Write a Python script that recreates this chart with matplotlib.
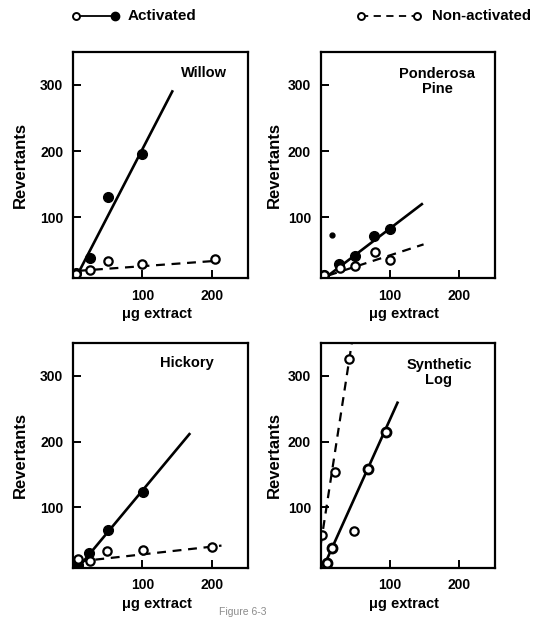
import matplotlib
matplotlib.use("Agg")
import matplotlib.pyplot as plt
from matplotlib.lines import Line2D

plt.rcParams["font.family"] = ["Liberation Sans", "DejaVu Sans"]
plt.rcParams["font.weight"] = "bold"

# values (x = ug extract, y = revertants)
panel_names = ["Willow", "Ponderosa\nPine", "Hickory", "Synthetic\nLog"]

willow_act_x = [5, 25, 50, 100]
willow_act_y = [15, 38, 131, 196]
willow_non_x = [5, 25, 50, 100, 205]
willow_non_y = [14, 20, 34, 29, 37]
willow_act_fit_x = [5, 144]
willow_act_fit_y = [10, 292]
willow_non_fit_x = [8, 205]
willow_non_fit_y = [19, 34]

pine_act_x = [4, 27, 49, 77, 100]
pine_act_y = [12, 29, 42, 71, 82]
pine_non_x = [4, 28, 49, 78, 101]
pine_non_y = [12, 24, 27, 47, 35]
pine_act_fit_x = [11, 148]
pine_act_fit_y = [12, 121]
pine_non_fit_x = [11, 149]
pine_non_fit_y = [12, 59]
pine_stray_x = [16]
pine_stray_y = [73]

hickory_act_x = [7, 23, 50, 101]
hickory_act_y = [12, 31, 65, 124]
hickory_non_x = [7, 24, 49, 101, 200]
hickory_non_y = [22, 18, 33, 35, 40]
hickory_act_fit_x = [12, 169]
hickory_act_fit_y = [14, 213]
hickory_non_fit_x = [10, 214]
hickory_non_fit_y = [18, 42]

synth_act_x = [9, 17, 68, 94]
synth_act_y = [15, 38, 159, 215]
synth_non_x = [2, 20, 41, 48]
synth_non_y = [58, 154, 326, 64]
synth_act_fit_x = [2, 112]
synth_act_fit_y = [5, 261]
synth_non_fit_x = [0, 45]
synth_non_fit_y = [44, 350]

x_ticks = [100, 200]
y_ticks = [100, 200, 300]

panels = [
    (willow_act_x, willow_act_y, willow_non_x, willow_non_y,
     willow_act_fit_x, willow_act_fit_y, willow_non_fit_x, willow_non_fit_y),
    (pine_act_x, pine_act_y, pine_non_x, pine_non_y,
     pine_act_fit_x, pine_act_fit_y, pine_non_fit_x, pine_non_fit_y),
    (hickory_act_x, hickory_act_y, hickory_non_x, hickory_non_y,
     hickory_act_fit_x, hickory_act_fit_y, hickory_non_fit_x, hickory_non_fit_y),
    (synth_act_x, synth_act_y, synth_non_x, synth_non_y,
     synth_act_fit_x, synth_act_fit_y, synth_non_fit_x, synth_non_fit_y),
]

# axes boxes in figure fractions: left, bottom, width, height
boxes = [
    [0.135, 0.550, 0.324, 0.366],
    [0.594, 0.550, 0.322, 0.366],
    [0.135, 0.081, 0.324, 0.364],
    [0.594, 0.081, 0.322, 0.364],
]
title_pos = [(0.75, 0.905), (0.67, 0.87), (0.65, 0.91), (0.68, 0.87)]
ylabel_x = [-0.255, -0.225, -0.255, -0.225]
xlabel_y = [-0.128, -0.128, -0.13, -0.13]

fig = plt.figure(figsize=(5.4, 6.18), dpi=100)
dash = (0, (4, 3))

for i, (name, data, box) in enumerate(zip(panel_names, panels, boxes)):
    ax = fig.add_axes(box)
    ax_x, ax_y, nx, ny, afx, afy, nfx, nfy = data

    ax.plot(afx, afy, color="black", lw=1.9, solid_capstyle="butt")
    ax.plot(nfx, nfy, color="black", lw=1.6, linestyle=dash)

    if i == 3:
        # activated points show as heavy open circles in this panel
        ax.plot(ax_x, ax_y, "o", ms=6.5, mfc="white", mec="black", mew=2.0,
                linestyle="none")
    else:
        ax.plot(ax_x, ax_y, "o", ms=7, color="black", linestyle="none")
    ax.plot(nx, ny, "o", ms=6, mfc="white", mec="black", mew=1.6,
            linestyle="none")
    if i == 1:
        ax.plot(pine_stray_x, pine_stray_y, "o", ms=3.5, color="black")

    ax.set_xlim(0, 252)
    ax.set_ylim(8, 350)
    ax.set_xticks(x_ticks)
    ax.set_yticks(y_ticks)
    ax.tick_params(axis="x", direction="in", length=6, width=1.4, pad=7.5,
                   labelsize=10)
    ax.tick_params(axis="y", direction="in", length=6, width=1.4, pad=7,
                   labelsize=10)
    for sp in ax.spines.values():
        sp.set_linewidth(1.6)

    ax.set_xlabel("\u03bcg extract", fontsize=10.5, fontweight="bold")
    ax.set_ylabel("Revertants", fontsize=12, fontweight="bold")
    ax.xaxis.set_label_coords(0.48, xlabel_y[i])
    ax.yaxis.set_label_coords(ylabel_x[i], 0.5)

    tx, ty = title_pos[i]
    ax.text(tx, ty, name, transform=ax.transAxes, ha="center", va="center",
            fontsize=10.5, fontweight="bold", linespacing=1.05)

# legend strip across the top
ly = 1 - 16 / 618
fig.add_artist(Line2D([0.141, 0.213], [ly, ly], color="black", lw=1.3,
                      transform=fig.transFigure))
fig.add_artist(Line2D([0.141], [ly], marker="o", ms=5, mfc="white",
                      mec="black", mew=1.4, transform=fig.transFigure))
fig.add_artist(Line2D([0.213], [ly], marker="o", ms=6, color="black",
                      transform=fig.transFigure))
fig.text(0.237, ly, "Activated", ha="left", va="center", fontsize=11,
         fontweight="bold")

fig.add_artist(Line2D([0.669, 0.772], [ly, ly], color="black", lw=1.3,
                      linestyle=(0, (4, 3)), transform=fig.transFigure))
for mx in [0.669, 0.772]:
    fig.add_artist(Line2D([mx], [ly], marker="o", ms=5, mfc="white",
                          mec="black", mew=1.4, transform=fig.transFigure))
fig.text(0.800, ly, "Non-activated", ha="left", va="center", fontsize=10.8,
         fontweight="bold")

# faint caption at the very bottom of the page
fig.text(0.45, 1 / 618, "Figure 6-3", ha="center", va="bottom",
         fontsize=7.5, color="0.55", fontweight="normal")

fig.savefig("out.png", dpi=100)
